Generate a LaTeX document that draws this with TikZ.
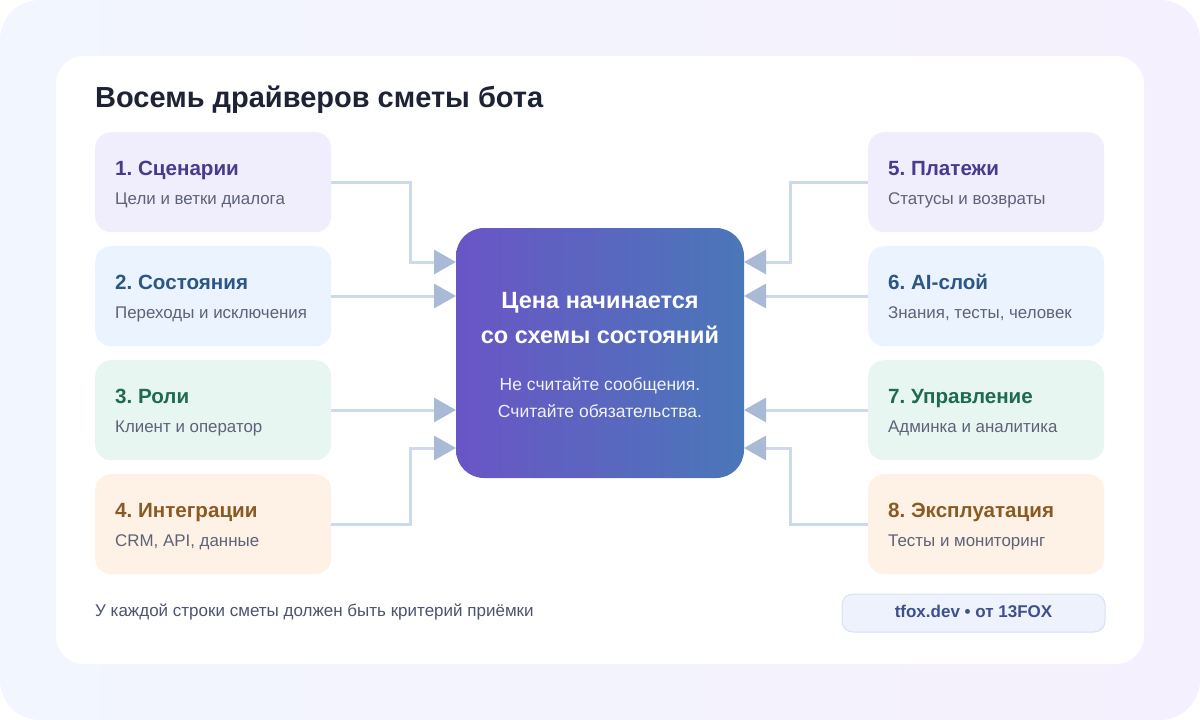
\documentclass[tikz,border=0pt]{standalone}
\usepackage{fontspec}
\setmainfont{Liberation Sans}
\usetikzlibrary{arrows.meta}

\definecolor{bgl}{HTML}{F2F6FE}
\definecolor{bgr}{HTML}{F4F0FD}
\definecolor{ink}{HTML}{1E2235}
\definecolor{subgray}{HTML}{5E6278}
\definecolor{footgray}{HTML}{4D546F}
\definecolor{linec}{HTML}{CDD9EC}
\definecolor{tipc}{HTML}{A9BAD7}
\definecolor{lav}{HTML}{F0EDFD}
\definecolor{sky}{HTML}{EBF3FE}
\definecolor{mint}{HTML}{E8F6F1}
\definecolor{peach}{HTML}{FEF2E6}
\definecolor{inkA}{HTML}{4A3A8E}
\definecolor{inkB}{HTML}{2C5686}
\definecolor{inkC}{HTML}{1F6B50}
\definecolor{inkD}{HTML}{8A5A24}
\definecolor{gradl}{HTML}{6A55C6}
\definecolor{gradr}{HTML}{4A77B8}
\definecolor{badgef}{HTML}{EEF2FD}
\definecolor{badged}{HTML}{D8E0F7}
\definecolor{badget}{HTML}{3E4F8E}

\begin{document}
\begin{tikzpicture}[x=1pt, y=-1pt,
    card/.style={rounded corners=16pt, minimum width=236pt, minimum height=100pt,
      anchor=north west, inner sep=0pt},
    head/.style={anchor=base west, inner sep=0pt, font=\bfseries\fontsize{20.6}{24}\selectfont},
    sub/.style={anchor=base west, inner sep=0pt, text=subgray, font=\fontsize{16.9}{20}\selectfont},
    conn/.style={draw=linec, line width=3pt, -{Triangle[length=22pt, width=24pt, color=tipc]}}]
  \useasboundingbox (0,0) rectangle (1200,720);
  \fill[white] (0,0) rectangle (1200,720);
  \shade[left color=bgl, right color=bgr, rounded corners=40pt] (0,0) rectangle (1200,720);
  \fill[white, rounded corners=28pt] (56,56) rectangle (1144,664);

  \node[anchor=base west, inner sep=0pt, text=ink, font=\bfseries\fontsize{29}{34}\selectfont]
    (title) at (95,107) {Восемь драйверов сметы бота};

  % left and right drivers
  \foreach \n/\x/\y/\fc/\tc/\t/\s in {
      1/95/132/lav/inkA/{1. Сценарии}/{Цели и ветки диалога},
      2/95/246/sky/inkB/{2. Состояния}/{Переходы и исключения},
      3/95/360/mint/inkC/{3. Роли}/{Клиент и оператор},
      4/95/474/peach/inkD/{4. Интеграции}/{CRM, API, данные},
      5/868/132/lav/inkA/{5. Платежи}/{Статусы и возвраты},
      6/868/246/sky/inkB/{6. AI-слой}/{Знания, тесты, человек},
      7/868/360/mint/inkC/{7. Управление}/{Админка и аналитика},
      8/868/474/peach/inkD/{8. Эксплуатация}/{Тесты и мониторинг}} {
    \node[card, fill=\fc] (b\n) at (\x,\y) {};
    \node[head, text=\tc] (b\n-t) at (\x+20,\y+43) {\frenchspacing\t};
    \node[sub] (b\n-s) at (\x+20,\y+72) {\s};
  }

  \node[shade, left color=gradl, right color=gradr, rounded corners=28pt,
    minimum width=288pt, minimum height=250pt, inner sep=0pt] (c) at (600,353) {};
  % base = last line
  \node[white, align=center, font=\bfseries\fontsize{23.5}{35}\selectfont, anchor=base]
    (c-t) at (600,343) {Цена начинается\\со схемы состояний};
  \node[white, opacity=0.92, align=center, font=\fontsize{17.5}{27}\selectfont, anchor=base]
    (c-s) at (600,417) {Не считайте сообщения.\\Считайте обязательства.};

  \coordinate (l1) at (456,262);
  \coordinate (l2) at (456,296);
  \coordinate (l3) at (456,410);
  \coordinate (l4) at (456,448);
  \coordinate (r1) at (744,262);
  \coordinate (r2) at (744,296);
  \coordinate (r3) at (744,410);
  \coordinate (r4) at (744,448);

  \draw[conn] (b1.east |- 0,182) -- (410,182) |- (l1);
  \draw[conn] (b2.east |- 0,296) -- (l2);
  \draw[conn] (b3.east |- 0,410) -- (l3);
  \draw[conn] (b4.east |- 0,524) -- (410,524) |- (l4);
  \draw[conn] (b5.west |- 0,182) -- (790,182) |- (r1);
  \draw[conn] (b6.west |- 0,296) -- (r2);
  \draw[conn] (b7.west |- 0,410) -- (r3);
  \draw[conn] (b8.west |- 0,524) -- (790,524) |- (r4);

  \node[anchor=base west, inner sep=0pt, text=footgray, font=\fontsize{17}{20}\selectfont]
    (foot) at (95,616) {У каждой строки сметы должен быть критерий приёмки};
  \node[draw=badged, fill=badgef, rounded corners=11pt, line width=1pt,
    minimum width=263pt, minimum height=38pt, inner sep=0pt] (badge) at (973.5,613) {};
  \node[anchor=base, inner sep=0pt, text=badget, font=\bfseries\fontsize{17}{20}\selectfont]
    (badge-t) at (973.5,617) {tfox.dev • от 13FOX};
\end{tikzpicture}
\end{document}
